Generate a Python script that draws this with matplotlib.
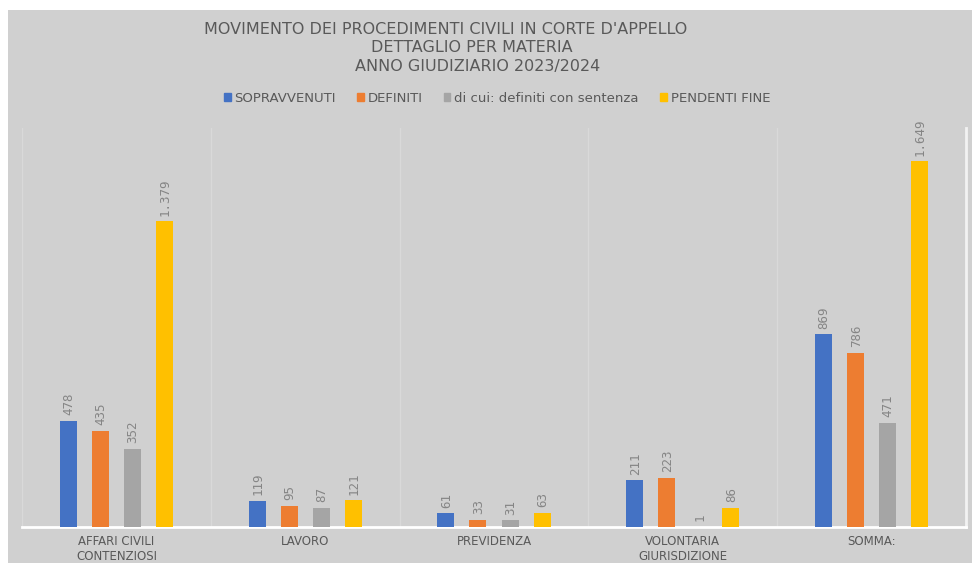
import matplotlib.pyplot as plt
import matplotlib.patches as mpatches
import numpy as np

categories = ['AFFARI CIVILI\nCONTENZIOSI', 'LAVORO', 'PREVIDENZA', 'VOLONTARIA\nGIURISDIZIONE', 'SOMMA:']
series_names = ['SOPRAVVENUTI', 'DEFINITI', 'di cui: definiti con sentenza', 'PENDENTI FINE']
sopravvenuti = [478, 119, 61, 211, 869]
definiti = [435, 95, 33, 223, 786]
con_sentenza = [352, 87, 31, 1, 471]
pendenti_fine = [1379, 121, 63, 86, 1649]
title_lines = ["MOVIMENTO DEI PROCEDIMENTI CIVILI IN CORTE D'APPELLO",
               "DETTAGLIO PER MATERIA", "ANNO GIUDIZIARIO 2023/2024"]

colors = ['#4472c4', '#ed7d31', '#a5a5a5', '#ffc000']
bg = '#d0d0d0'


def it_fmt(v):
    return '{:,}'.format(v).replace(',', '.')


fig = plt.figure(figsize=(9.72, 5.63), dpi=100, facecolor='white')
fig.add_artist(mpatches.Rectangle((8 / 972, 0), 1 - 8 / 972, 1 - 10 / 563,
                                  transform=fig.transFigure, facecolor=bg,
                                  edgecolor='none', zorder=-10))
ax = fig.add_axes([22 / 972, 1 - 527 / 563, (966 - 22) / 972, (527 - 128) / 563])
ax.set_facecolor(bg)
ax.set_zorder(5)

x = np.arange(len(categories))
bw = 0.09
step = 0.17
all_series = [sopravvenuti, definiti, con_sentenza, pendenti_fine]
for i, vals in enumerate(all_series):
    pos = x + (i - 1.5) * step
    bars = ax.bar(pos, vals, bw, color=colors[i], label=series_names[i], zorder=3)
    for b, v in zip(bars, vals):
        ax.annotate(it_fmt(v), (b.get_x() + b.get_width() / 2, b.get_height()),
                    xytext=(0.5, 4), textcoords='offset points', rotation=90,
                    ha='center', va='bottom', fontsize=9, color='#858585',
                    family='DejaVu Sans Mono')

ax.set_xlim(-0.5, len(categories) - 0.5)
ax.set_ylim(0, 1800)
ax.set_yticks([])
ax.set_xticks(x)
ax.set_xticklabels(categories, fontsize=8.5, color='#595959', linespacing=1.15)
ax.tick_params(axis='x', length=0, pad=6)
for b in np.arange(0.5, len(categories) - 0.5, 1):
    ax.axvline(b, color='#d9d9d9', lw=1, zorder=1)
ax.axvline(-0.5, color='#d9d9d9', lw=1, zorder=1)

ax.spines['top'].set_visible(False)
ax.spines['left'].set_visible(False)
ax.spines['right'].set_color('#f2f2f2')
ax.spines['right'].set_linewidth(2)
ax.spines['bottom'].set_color('white')
ax.spines['bottom'].set_linewidth(2)

# title: three lines, each one slightly off-centre as in the original
title_x = [446, 472, 478]
title_y = [30, 48, 67]
for t, tx, ty in zip(title_lines, title_x, title_y):
    fig.text(tx / 972, 1 - ty / 563, t, ha='center', va='center',
             fontsize=11.5, color='#595959')

handles = [mpatches.Patch(color=c) for c in colors]
fig.legend(handles, series_names, loc='center', bbox_to_anchor=(497 / 972, 1 - 98 / 563),
           ncol=4, frameon=False, fontsize=9.5, handlelength=0.5, handleheight=0.5,
           handletextpad=0.3, columnspacing=1.6, labelcolor='#595959')

fig.savefig('out.png', dpi=100, facecolor='white')
